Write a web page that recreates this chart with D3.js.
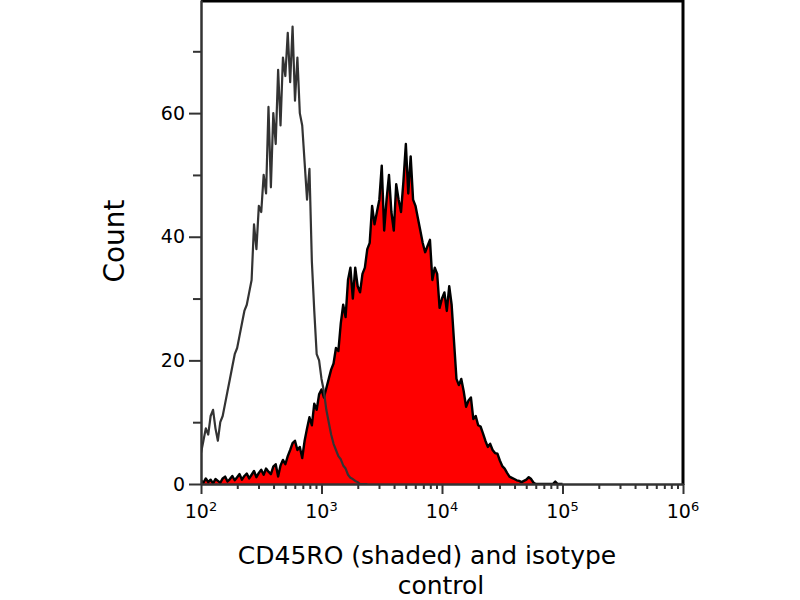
<!DOCTYPE html>
<html>
<head>
<meta charset="utf-8">
<script src="https://cdn.jsdelivr.net/npm/d3@7"></script>
<style>
  body { margin: 0; background: #fff; }
  text { font-family: "DejaVu Sans", Verdana, sans-serif; }
</style>
</head>
<body>
<div id="hist"></div>
<script>
// histogram bins: log10 start and bin width (log10 units)
var logStart = 2,
    logStep = 0.02;

// isotype control counts (grey outline)
var isotypeCounts = [5, 7, 9, 8, 11, 12, 9, 7, 10, 11,
    13, 15, 17, 19, 21, 22, 24, 26, 28, 29,
    31, 33, 42, 38, 45, 44, 50, 47, 61, 48,
    60, 55, 67, 58, 69, 66, 73, 65, 74, 62,
    69, 60, 58, 52, 46, 51, 36, 28, 21, 20,
    17, 15, 12, 10, 8, 6.5, 5.5, 4.5, 4, 3,
    2.5, 1.5, 1, 0.8, 0.5, 0.3, 0, 0, 0, 0];

// CD45RO counts (red shaded)
var cd45Counts = [0.6, 0.2, 0.9, 0.3, 0.7, 0.1, 0.8, 0.5, 0.2, 0.9,
    1.2, 0.4, 0.8, 1.3, 0.6, 1.1, 1.6, 0.7, 1.3, 1.7,
    0.9, 1.5, 2.1, 1.1, 1.8, 2.3, 1.5, 2.5, 2, 1.6,
    2.8, 3.2, 1.2, 3, 3.9, 3.2, 4.5, 5.5, 6.6, 7,
    5.5, 6, 4.2, 7, 9, 10.8, 9.5, 13, 12, 14.5,
    15.3, 14, 15.5, 17, 18.5, 19.5, 22, 21.5, 26, 29,
    27, 33, 35, 30, 35, 32, 31, 34, 35, 38,
    39, 45, 42, 44, 46, 51.5, 41, 46, 50, 44,
    41, 48.5, 46, 44, 49, 55, 47, 53, 46, 45,
    43, 41, 39, 37.5, 38.5, 39.5, 33, 35, 34, 28.5,
    30, 31, 28, 32, 29, 23, 17, 16, 17, 15,
    12.5, 13.5, 14, 10.5, 11, 9.5, 9.3, 8.2, 7, 6,
    6.5, 5.5, 5, 4.9, 3.8, 2.9, 2.5, 1.8, 1.2, 1,
    0.8, 0.6, 0.5, 0.3, 0.5, 0.7, 1.1, 0.8, 0.2, 0,
    0, 0, 0, 0, 0, 0, 0, 0.4, 0, 0, 0];

var yTicks = [0, 20, 40, 60],
    yMinorTicks = [10, 30, 50, 70],
    xTickExps = [2, 3, 4, 5, 6];

var width = 800,
    height = 600;

var svg = d3.select("#hist")
    .append("svg")
    .attr("width", width)
    .attr("height", height);

// scales
var x = d3.scaleLog()
    .domain([100, 1e6])
    .range([201, 683]);

var y = d3.scaleLinear()
    .domain([0, 78.3])
    .range([484, 0]);

function toPoints(counts) {
    return counts.map(function(c, i) {
        return {v: Math.pow(10, logStart + i * logStep), c: c};
    });
}

svg.append("clipPath")
    .attr("id", "plotclip")
    .append("rect")
    .attr("x", 201).attr("y", 0)
    .attr("width", 482).attr("height", 484);

var plot = svg.append("g").attr("clip-path", "url(#plotclip)");

var area = d3.area()
    .x(function(d) { return x(d.v); })
    .y0(y(0))
    .y1(function(d) { return y(d.c); });

var line = d3.line()
    .x(function(d) { return x(d.v); })
    .y(function(d) { return y(d.c); });

// red shaded histogram
plot.append("path")
    .datum(toPoints(cd45Counts))
    .attr("d", area)
    .attr("fill", "#ff0000");

plot.append("path")
    .datum(toPoints(cd45Counts))
    .attr("d", line)
    .attr("fill", "none")
    .attr("stroke", "#000")
    .attr("stroke-width", 2.4)
    .attr("stroke-linejoin", "round");

// isotype outline
plot.append("path")
    .datum(toPoints(isotypeCounts))
    .attr("d", line)
    .attr("fill", "none")
    .attr("stroke", "#333")
    .attr("stroke-width", 2.2)
    .attr("stroke-linejoin", "round");

// frame: top and right borders
svg.append("line")
    .attr("x1", 201).attr("y1", 1)
    .attr("x2", 684).attr("y2", 1)
    .attr("stroke", "#000")
    .attr("stroke-width", 3);
svg.append("line")
    .attr("x1", 683).attr("y1", 0)
    .attr("x2", 683).attr("y2", 485)
    .attr("stroke", "#000")
    .attr("stroke-width", 3);

// Y axis
var yAxis = svg.append("g")
    .attr("transform", "translate(201,0)")
    .call(d3.axisLeft(y).tickValues(yTicks).tickSize(12).tickSizeOuter(0).tickPadding(4));
svg.append("g")
    .attr("transform", "translate(201,0)")
    .call(d3.axisLeft(y).tickValues(yMinorTicks).tickSize(8).tickSizeOuter(0).tickFormat(""))
    .select(".domain").remove();
yAxis.select(".domain").attr("stroke", "#333").attr("stroke-width", 2.5);
svg.selectAll("g.tick line").attr("stroke", "#333").attr("stroke-width", 2);
yAxis.selectAll("text")
    .style("font-size", "19px")
    .attr("fill", "#000")
    .attr("font-family", "DejaVu Sans");

// X axis
var xMinor = [];
xTickExps.slice(0, -1).forEach(function(e) {
    for (var m = 2; m <= 9; m++) xMinor.push(m * Math.pow(10, e));
});
var xAxis = svg.append("g")
    .attr("transform", "translate(0,484)")
    .call(d3.axisBottom(x)
        .tickValues(xTickExps.map(function(e) { return Math.pow(10, e); }))
        .tickSize(10).tickSizeOuter(0).tickFormat(""));
svg.append("g")
    .attr("transform", "translate(0,484)")
    .call(d3.axisBottom(x).tickValues(xMinor).tickSize(5).tickFormat(""))
    .select(".domain").remove();
xAxis.select(".domain").attr("stroke", "#333").attr("stroke-width", 2.5);
svg.selectAll("g.tick line").attr("stroke", "#333").attr("stroke-width", 2);

// power-of-ten labels
var xl = svg.append("g").selectAll("text")
    .data(xTickExps)
    .enter()
    .append("text")
    .attr("x", function(d) { return x(Math.pow(10, d)); })
    .attr("y", 518)
    .attr("text-anchor", "middle")
    .style("font-size", "19px");
xl.append("tspan").text("10");
xl.append("tspan")
    .attr("dy", "-7")
    .style("font-size", "13px")
    .text(function(d) { return d; });

// axis titles
svg.append("text")
    .attr("transform", "translate(124,241) rotate(-90)")
    .attr("text-anchor", "middle")
    .style("font-size", "28px")
    .text("Count");

svg.append("text")
    .attr("x", 427)
    .attr("y", 564)
    .attr("text-anchor", "middle")
    .style("font-size", "25px")
    .text("CD45RO (shaded) and isotype");

svg.append("text")
    .attr("x", 441)
    .attr("y", 594)
    .attr("text-anchor", "middle")
    .style("font-size", "25px")
    .text("control");
</script>
</body>
</html>
